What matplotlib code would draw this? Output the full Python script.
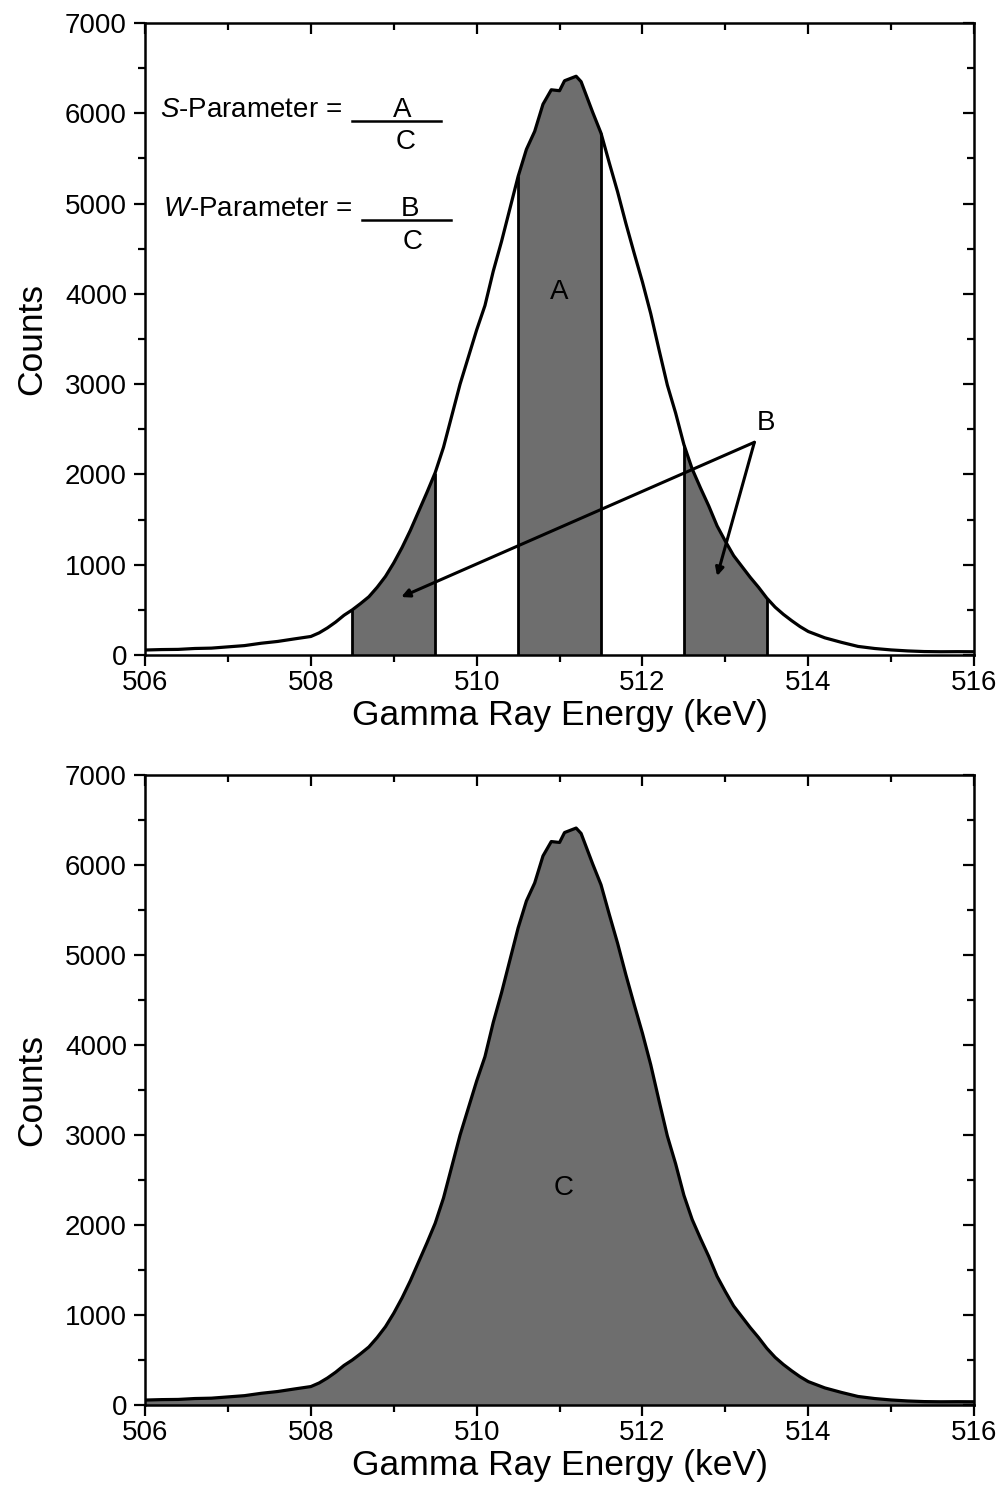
import numpy as np
import matplotlib
matplotlib.use("Agg")
import matplotlib.pyplot as plt
from matplotlib.ticker import MultipleLocator

plt.rcParams['font.family'] = ['Liberation Sans', 'DejaVu Sans']
plt.rcParams['mathtext.fontset'] = 'custom'
plt.rcParams['mathtext.rm'] = 'Liberation Sans'
plt.rcParams['mathtext.it'] = 'Liberation Sans:italic'

# ---- data ----
energy_keV = [506.0, 506.2, 506.4, 506.6, 506.8, 507.0, 507.2, 507.4, 507.6, 507.8,
              508.0, 508.1, 508.2, 508.3, 508.4, 508.5, 508.6, 508.7, 508.8, 508.9,
              509.0, 509.1, 509.2, 509.3, 509.4, 509.5, 509.6, 509.7, 509.8, 509.9,
              510.0, 510.1, 510.2, 510.3, 510.4, 510.5, 510.6, 510.7, 510.8, 510.9,
              511.0, 511.06, 511.2, 511.26, 511.4, 511.5, 511.6, 511.7, 511.8, 511.9,
              512.0, 512.1, 512.2, 512.3, 512.4, 512.5, 512.6, 512.7, 512.8, 512.9,
              513.0, 513.1, 513.2, 513.3, 513.4, 513.5, 513.6, 513.7, 513.8, 513.9,
              514.0, 514.2, 514.4, 514.6, 514.8, 515.0, 515.2, 515.4, 515.6, 515.8, 516.0]
counts = [55, 60, 62, 72, 76, 90, 104, 130, 150, 178,
          205, 245, 300, 365, 440, 500, 570, 645, 750, 870,
          1020, 1190, 1380, 1590, 1800, 2020, 2300, 2650, 3000, 3300,
          3600, 3870, 4250, 4580, 4940, 5300, 5600, 5800, 6100, 6260,
          6250, 6360, 6410, 6350, 6010, 5780, 5450, 5130, 4780, 4450,
          4130, 3780, 3380, 2990, 2680, 2330, 2060, 1850, 1650, 1430,
          1260, 1100, 980, 860, 750, 630, 530, 450, 380, 315,
          260, 190, 140, 95, 72, 56, 45, 38, 36, 37, 36]

# integration windows (keV)
window_A = (510.5, 511.5)
windows_B = [(508.5, 509.5), (512.5, 513.5)]

x_ticks = [506, 508, 510, 512, 514, 516]
y_ticks = [0, 1000, 2000, 3000, 4000, 5000, 6000, 7000]

E = np.array(energy_keV, dtype=float)
C = np.array(counts, dtype=float)

FILL = '#6e6e6e'
TICK_FS = 20
LABEL_FS = 25.5
NOTE_FS = 20


def style_axes(ax):
    ax.set_xlim(506, 516)
    ax.set_ylim(0, 7000)
    ax.set_xticks(x_ticks)
    ax.set_yticks(y_ticks)
    ax.xaxis.set_minor_locator(MultipleLocator(1))
    ax.yaxis.set_minor_locator(MultipleLocator(500))
    ax.tick_params(which='both', top=True, right=True, width=1.6)
    ax.tick_params(which='major', length=8)
    ax.tick_params(which='minor', length=5)
    ax.tick_params(axis='x', which='both', direction='out', labelsize=TICK_FS, pad=3)
    ax.tick_params(axis='y', which='both', direction='out', labelsize=TICK_FS, pad=5)
    for sp in ax.spines.values():
        sp.set_linewidth(1.8)
    ax.set_xlabel('Gamma Ray Energy (keV)', fontsize=LABEL_FS, labelpad=2)
    ax.set_ylabel('Counts', fontsize=LABEL_FS, labelpad=12)
    for t in ax.xaxis.get_ticklines(minor=False)[1::2] + ax.xaxis.get_ticklines(minor=True)[1::2]:
        t.set_marker(3)  # top ticks pointing inside
    for t in ax.yaxis.get_ticklines(minor=False)[1::2] + ax.yaxis.get_ticklines(minor=True)[1::2]:
        t.set_marker(0)  # right ticks pointing inside


def window_points(lo, hi):
    inner = E[(E > lo) & (E < hi)]
    xs = np.concatenate([[lo], inner, [hi]])
    ys = np.interp(xs, E, C)
    return xs, ys


fig = plt.figure(figsize=(10.01, 14.92), dpi=100)
ax1 = fig.add_axes([0.1449, 0.561, 0.8282, 0.4236])
ax2 = fig.add_axes([0.1449, 0.0583, 0.8282, 0.4223])

# ---------- top panel ----------
for lo, hi in [windows_B[0], window_A, windows_B[1]]:
    xs, ys = window_points(lo, hi)
    ax1.fill_between(xs, 0, ys, color=FILL, lw=0, zorder=1)
    ax1.vlines([lo, hi], 0, np.interp([lo, hi], E, C), color='black', lw=2.0, zorder=2)
ax1.plot(E, C, color='black', lw=2.3, zorder=3)
style_axes(ax1)

ax1.text(511.0, 4015, 'A', fontsize=NOTE_FS, ha='center', va='center', zorder=4)
ax1.text(513.49, 2566, 'B', fontsize=NOTE_FS, ha='center', va='center', zorder=4)
vertex = (513.35, 2356)
for end in [(509.09, 642), (512.9, 874)]:
    ax1.annotate('', xy=end, xytext=vertex,
                 arrowprops=dict(arrowstyle='-|>', lw=2.2, color='black',
                                 mutation_scale=12, shrinkA=0, shrinkB=0),
                 zorder=5)

ax1.text(506.18, 6035, r'$\mathit{S}$-Parameter =', fontsize=NOTE_FS, ha='left', va='center')
ax1.plot([508.50, 509.57], [5913, 5913], color='black', lw=1.8)
ax1.text(509.10, 6035, 'A', fontsize=NOTE_FS, ha='center', va='center')
ax1.text(509.14, 5681, 'C', fontsize=NOTE_FS, ha='center', va='center')

ax1.text(506.22, 4939, r'$\mathit{W}$-Parameter =', fontsize=NOTE_FS, ha='left', va='center')
ax1.plot([508.62, 509.69], [4817, 4817], color='black', lw=1.8)
ax1.text(509.20, 4939, 'B', fontsize=NOTE_FS, ha='center', va='center')
ax1.text(509.23, 4574, 'C', fontsize=NOTE_FS, ha='center', va='center')

# ---------- bottom panel ----------
ax2.fill_between(E, 0, C, color=FILL, lw=0, zorder=1)
ax2.plot(E, C, color='black', lw=2.3, zorder=3)
style_axes(ax2)
ax2.text(511.05, 2408, 'C', fontsize=NOTE_FS, ha='center', va='center', zorder=4)

fig.savefig('out.png', dpi=100)
